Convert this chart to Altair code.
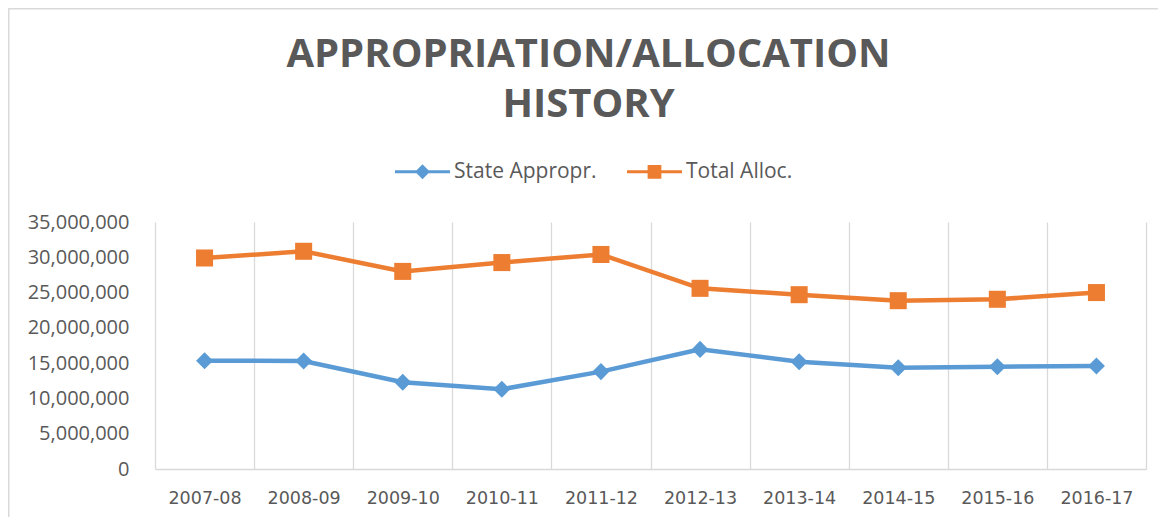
import altair as alt
import pandas as pd

years = ["2007-08", "2008-09", "2009-10", "2010-11", "2011-12",
         "2012-13", "2013-14", "2014-15", "2015-16", "2016-17"]
state_appropr = [15350000, 15300000, 12300000, 11300000, 13800000,
                 16950000, 15200000, 14350000, 14500000, 14600000]
total_alloc = [29900000, 30850000, 28000000, 29250000, 30400000,
               25600000, 24700000, 23850000, 24050000, 25000000]
series_names = ["State Appropr.", "Total Alloc."]
colors = ["#5B9BD5", "#ED7D31"]
y_ticks = [0, 5000000, 10000000, 15000000, 20000000, 25000000, 30000000, 35000000]
title_lines = ["APPROPRIATION/ALLOCATION", "HISTORY"]

df = pd.DataFrame({
    "year": years + years,
    "value": state_appropr + total_alloc,
    "series": [series_names[0]] * len(years) + [series_names[1]] * len(years),
})

FONT = "Open Sans"
GREY = "#595959"
GRID = "#d9d9d9"

x_enc = alt.X(
    "year:N", sort=years,
    scale=alt.Scale(paddingInner=0, paddingOuter=0),
    axis=alt.Axis(title=None, labelAngle=0, tickBand="extent", grid=True,
                  gridColor=GRID, gridWidth=1.3, domainColor=GRID, domainWidth=1.3,
                  ticks=False, labelFont="DejaVu Sans", labelFontSize=17.5,
                  labelColor=GREY, labelPadding=20),
)
y_enc = alt.Y(
    "value:Q",
    scale=alt.Scale(domain=[0, 35000000], nice=False),
    axis=alt.Axis(title=None, values=y_ticks, format=",d", grid=False, domain=False,
                  ticks=False, labelFont=FONT, labelFontSize=20, labelColor=GREY,
                  labelPadding=26),
)

base = alt.Chart(df)

lines = base.mark_line(strokeWidth=4.5).encode(
    x=x_enc, y=y_enc,
    color=alt.Color("series:N", scale=alt.Scale(domain=series_names, range=colors), legend=None),
)

points = base.mark_point(filled=True, size=290, opacity=1).encode(
    x=x_enc, y=y_enc,
    color=alt.Color("series:N", scale=alt.Scale(domain=series_names, range=colors), legend=None),
    shape=alt.Shape("series:N", scale=alt.Scale(domain=series_names, range=["diamond", "square"]), legend=None),
)

legend_paths = [
    "M-1,-0.055H1V0.055H-1Z M0,-0.27L0.27,0L0,0.27L-0.27,0Z",
    "M-1,-0.055H1V0.055H-1Z M-0.25,-0.25H0.25V0.25H-0.25Z",
]
leg = alt.Legend(orient="none", legendX=240, legendY=-78, direction="horizontal",
                 columns=2, title=None, symbolSize=3025, symbolStrokeWidth=0,
                 labelFont=FONT, labelFontSize=21, labelColor=GREY, labelOffset=4,
                 columnPadding=30, padding=0)

legend_layer = base.transform_filter("false").mark_point(filled=True, opacity=1).encode(
    x=x_enc, y=y_enc,
    color=alt.Color("series:N", scale=alt.Scale(domain=series_names, range=colors), legend=leg),
    shape=alt.Shape("series:N", scale=alt.Scale(domain=series_names, range=legend_paths), legend=leg),
)

border = alt.Chart(pd.DataFrame({"k": [0]})).mark_rect(
    fill="white", fillOpacity=0, stroke=GRID, strokeWidth=1.5
).encode(x=alt.value(-146.25), x2=alt.value(1040), y=alt.value(-213.25), y2=alt.value(330))

chart = alt.layer(border, lines, points, legend_layer).resolve_scale(
    color="independent", shape="independent"
).properties(
    width=991, height=247,
    padding={"left": 147, "top": 214, "right": 12, "bottom": 48},
    autosize=alt.AutoSizeParams(type="none"),
    title=alt.TitleParams(text=title_lines, font=FONT, fontSize=40, fontWeight="bold",
                          color=GREY, anchor="middle", frame="group", dx=-62, dy=121,
                          baseline="top", lineHeight=50),
).configure_view(stroke=None)

chart.save("out.html", embed_options={"renderer": "svg", "actions": False})
